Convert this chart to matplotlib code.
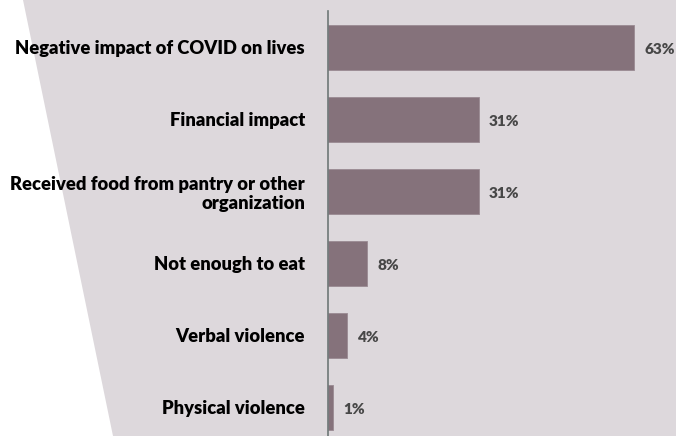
import matplotlib.pyplot as plt
from matplotlib.patches import Polygon

# data
categories = [
    'Negative impact of COVID on lives',
    'Financial impact',
    'Received food from pantry or other\norganization',
    'Not enough to eat',
    'Verbal violence',
    'Physical violence',
]
values = [63, 31, 31, 8, 4, 1]
value_labels = ['63%', '31%', '31%', '8%', '4%', '1%']

bar_color = '#85727b'
bg_color = '#ddd8dc'

W, H = 676, 436
fig = plt.figure(figsize=(W / 100, H / 100), dpi=100)
fig.patch.set_facecolor('white')

# slanted grey background panel, kept behind the axes
bg = Polygon([(23 / W, 1), (113 / W, 0), (1, 0), (1, 1)], closed=True,
             transform=fig.transFigure, facecolor=bg_color, edgecolor='none', zorder=-10)
fig.patches.append(bg)

ax = fig.add_axes([328 / W, 0, 1 - 328 / W, 1 - 11 / H])
ax.set_facecolor('none')

pos = list(range(len(categories)))
ax.barh(pos, values, height=0.625, color=bar_color, edgecolor='#9a8a92', linewidth=0.6)

ax.set_xlim(0, 71.6)
ax.set_ylim(5.40, -0.5)

ax.set_yticks(pos)
ax.set_yticklabels(categories, fontfamily='Lato', fontweight='heavy', fontsize=13.2,
                   color='black', linespacing=1.2)
ax.tick_params(axis='y', length=0, pad=16.5)
ax.set_xticks([])

for s in ['top', 'right', 'bottom']:
    ax.spines[s].set_visible(False)
ax.spines['left'].set_color('#6e7777')
ax.spines['left'].set_linewidth(1.2)

for p, v, lab in zip(pos, values, value_labels):
    ax.text(v + 2.1, p + 0.03, lab, va='center', ha='left', fontfamily='Lato',
            fontweight='heavy', fontsize=11, color='#474747')

fig.savefig('out.png', dpi=100, facecolor=fig.get_facecolor())
